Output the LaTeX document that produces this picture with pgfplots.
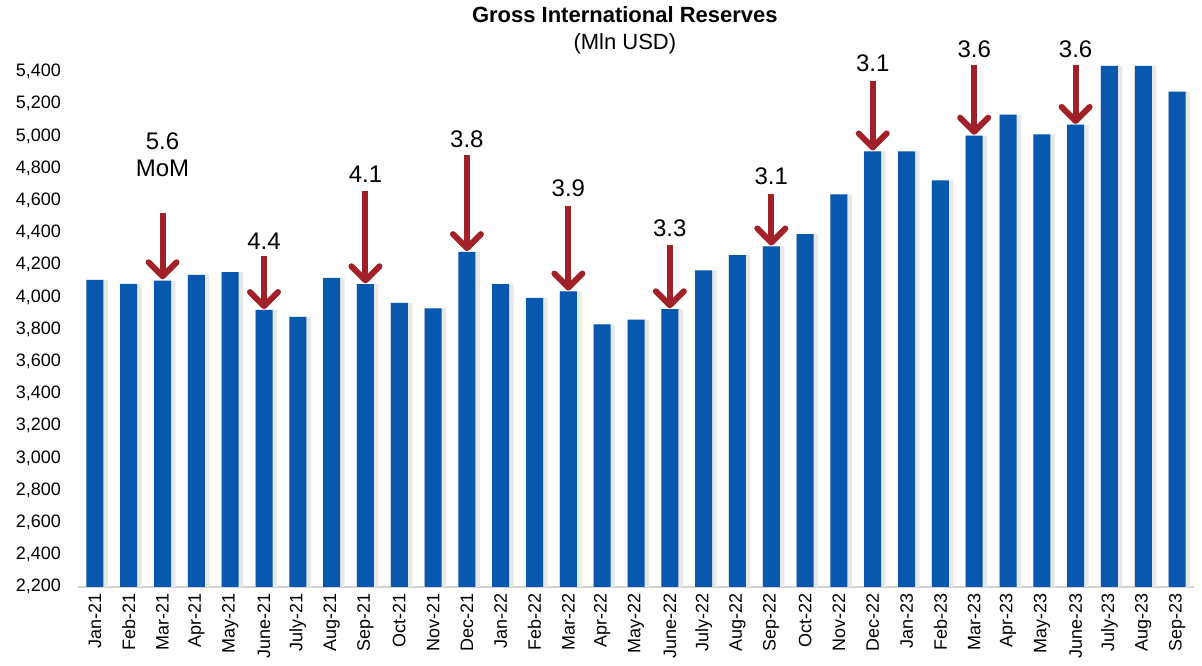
\documentclass[border=0pt]{standalone}
\usepackage{fontspec}
\setmainfont{Liberation Sans}
\usepackage{pgfplots}
\usepackage{pgfplotstable}
\pgfplotsset{compat=1.18}
\usetikzlibrary{arrows.meta}

\definecolor{barblue}{RGB}{8,88,176}
\definecolor{arrred}{RGB}{162,32,40}

% month index, reserves (mln USD)
\pgfplotstableread{
idx val
0  4106
1  4081
2  4102
3  4137
4  4155
5  3920
6  3877
7  4118
8  4080
9  3964
10 3930
11 4280
12 4080
13 3995
14 4035
15 3830
16 3860
17 3925
18 4165
19 4260
20 4315
21 4390
22 4638
23 4905
24 4905
25 4725
26 5003
27 5133
28 5010
29 5070
30 5436
31 5436
32 5275
}\reserves

\begin{document}
\begin{tikzpicture}[
  arr/.style={draw=arrred, line width=3pt, -{Straight Barb[length=7pt,width=14pt,round]}},
  lbl/.style={font=\fontsize{12}{14}\selectfont, align=center}]
\begin{axis}[
  scale only axis, width=558pt, height=264pt,
  xmin=-0.5, xmax=32.5, ymin=2200, ymax=5480,
  clip=false,
  axis lines*=left,
  y axis line style={draw=none},
  x axis line style={draw=gray!35, line width=1.2pt},
  tick style={draw=none},
  xtick=data,
  xticklabels={Jan-21,Feb-21,Mar-21,Apr-21,May-21,June-21,July-21,Aug-21,Sep-21,Oct-21,Nov-21,Dec-21,
    Jan-22,Feb-22,Mar-22,Apr-22,May-22,June-22,July-22,Aug-22,Sep-22,Oct-22,Nov-22,Dec-22,
    Jan-23,Feb-23,Mar-23,Apr-23,May-23,June-23,July-23,Aug-23,Sep-23},
  xticklabel style={rotate=90, anchor=east, font=\fontsize{9}{10}\selectfont},
  ytick={2200,2400,...,5400},
  yticklabel style={font=\fontsize{9}{10}\selectfont, xshift=-5pt},
  /pgf/number format/.cd, 1000 sep={,}, assume math mode=true,
]
\addplot[ybar, bar width=11pt, bar shift=1pt, fill=gray!18, draw=none] table[x=idx, y=val] {\reserves};
\addplot[ybar, bar width=8.5pt, bar shift=0pt, fill=barblue, draw=none] table[x=idx, y=val] {\reserves};

\node[font=\bfseries\fontsize{11}{13}\selectfont] at (rel axis cs:0.49,1) [yshift=22pt] {Gross International Reserves};
\node[font=\fontsize{11}{13}\selectfont] at (rel axis cs:0.49,1) [yshift=7.5pt] {(Mln USD)};
\coordinate (rb) at (rel axis cs:1,0);
\coordinate (lb) at (rel axis cs:0,0);

\draw[arr] (axis cs:2,4520) -- (axis cs:2,4110);
\node[lbl] at (axis cs:2,4966) {5.6};
\node[lbl] at (axis cs:2,4799) {MoM};
\draw[arr] (axis cs:5,4254) -- (axis cs:5,3925);
\node[lbl] at (axis cs:5,4347) {4.4};
\draw[arr] (axis cs:8,4657) -- (axis cs:8,4085);
\node[lbl] at (axis cs:8,4762) {4.1};
\draw[arr] (axis cs:11,4879) -- (axis cs:11,4285);
\node[lbl] at (axis cs:11,4978) {3.8};
\draw[arr] (axis cs:14,4564) -- (axis cs:14,4040);
\node[lbl] at (axis cs:14,4675) {3.9};
\draw[arr] (axis cs:17,4323) -- (axis cs:17,3930);
\node[lbl] at (axis cs:17,4428) {3.3};
\draw[arr] (axis cs:20,4638) -- (axis cs:20,4320);
\node[lbl] at (axis cs:20,4750) {3.1};
\draw[arr] (axis cs:23,5344) -- (axis cs:23,4910);
\node[lbl] at (axis cs:23,5449) {3.1};
\draw[arr] (axis cs:26,5443) -- (axis cs:26,5008);
\node[lbl] at (axis cs:26,5542) {3.6};
\draw[arr] (axis cs:29,5443) -- (axis cs:29,5075);
\node[lbl] at (axis cs:29,5542) {3.6};
\end{axis}
\path (rb) -- ++(4pt,0);
\path (lb) -- ++(-39pt,0);
\end{tikzpicture}
\end{document}
